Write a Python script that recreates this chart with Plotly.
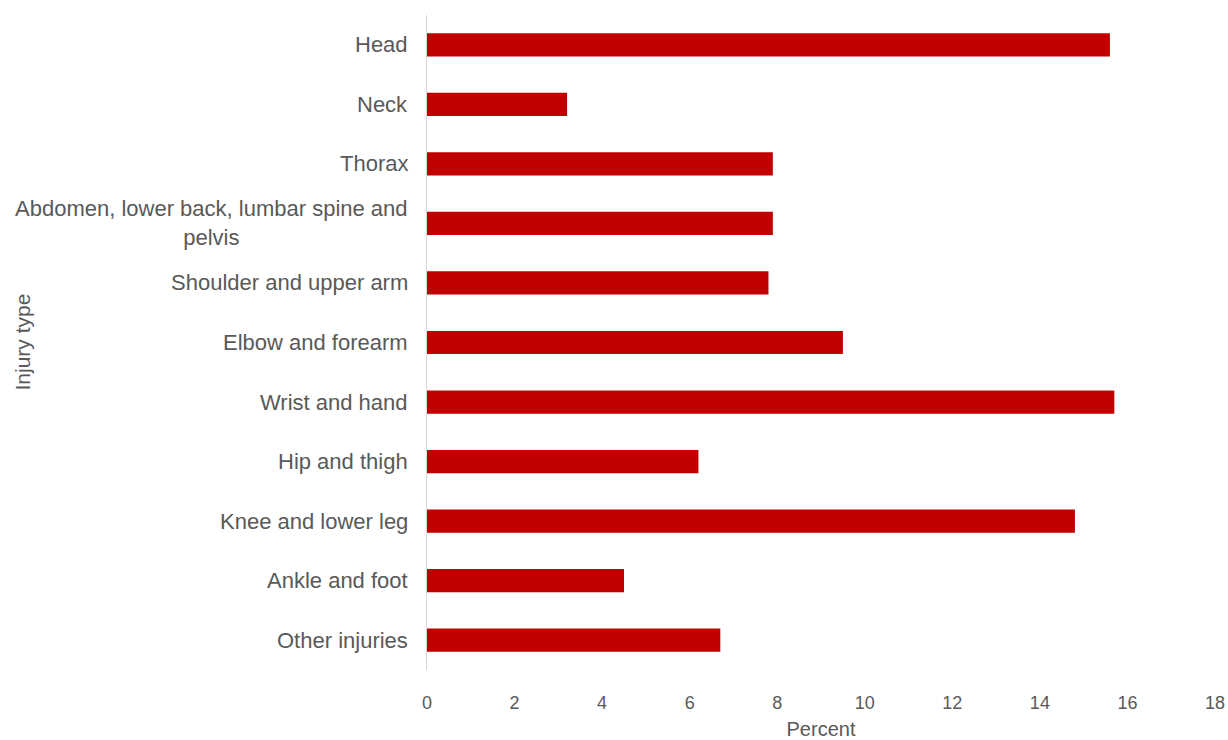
import plotly.graph_objects as go

categories = [
    "Head",
    "Neck",
    "Thorax",
    "Abdomen, lower back, lumbar spine and<br>pelvis",
    "Shoulder and upper arm",
    "Elbow and forearm",
    "Wrist and hand",
    "Hip and thigh",
    "Knee and lower leg",
    "Ankle and foot",
    "Other injuries",
]
percent = [15.6, 3.2, 7.9, 7.9, 7.8, 9.5, 15.7, 6.2, 14.8, 4.5, 6.7]
x_ticks = [0, 2, 4, 6, 8, 10, 12, 14, 16, 18]

TEXT = "#595959"

fig = go.Figure()
fig.add_trace(go.Bar(
    y=categories,
    x=percent,
    orientation="h",
    marker=dict(color="#c00000", line=dict(width=0)),
    hoverinfo="x+y",
))

for c in categories:
    fig.add_annotation(
        x=0, y=c, xref="x", yref="y",
        text=c, showarrow=False,
        xanchor="right", yanchor="middle", align="center",
        xshift=-17,
        font=dict(family="Liberation Sans, Arial, sans-serif", size=22, color=TEXT),
    )

fig.update_layout(
    width=1228, height=740,
    margin=dict(l=427, r=13, t=15, b=70, autoexpand=False),
    paper_bgcolor="white",
    plot_bgcolor="white",
    bargap=0.61,
    showlegend=False,
    xaxis=dict(
        range=[0, 18],
        tickvals=x_ticks,
        ticktext=[str(v) for v in x_ticks],
        showgrid=False,
        zeroline=False,
        showline=False,
        ticks="",
        automargin=False,
        ticklabelstandoff=20,
        tickfont=dict(family="Liberation Sans Narrow, Arial Narrow, sans-serif", size=18, color=TEXT),
        title=dict(text="Percent", standoff=14,
                   font=dict(family="Liberation Sans Narrow, Arial Narrow, sans-serif", size=20, color=TEXT)),
        fixedrange=True,
    ),
    yaxis=dict(
        autorange="reversed",
        showticklabels=False,
        showgrid=False,
        zeroline=False,
        showline=True,
        linecolor="#d9d9d9",
        linewidth=1,
        ticks="",
        automargin=False,
        fixedrange=True,
    ),
    annotations=list(fig.layout.annotations) + [
        dict(
            text="Injury type", textangle=-90, showarrow=False,
            xref="paper", yref="paper", x=-427/788 + 22/788, y=0.5,
            xanchor="center", yanchor="middle",
            font=dict(family="Liberation Sans, Arial, sans-serif", size=21, color=TEXT),
        )
    ],
)

fig.write_html("out.html")
